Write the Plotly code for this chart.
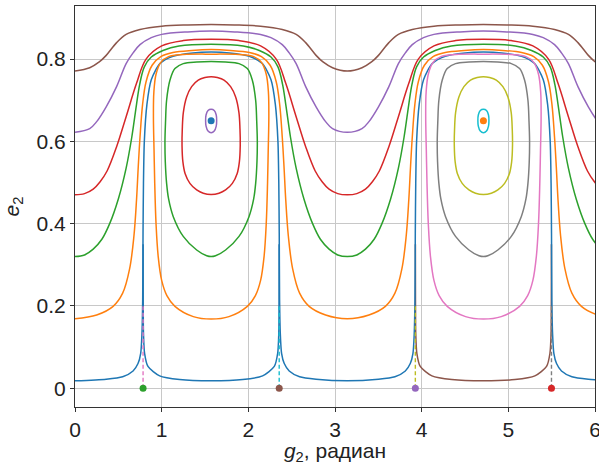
import numpy as np
import plotly.graph_objects as go

PI = np.pi

# ---------------- data ----------------
# axis ticks
x_ticks = [0, 1, 2, 3, 4, 5, 6]
y_ticks = [0, 0.2, 0.4, 0.6, 0.8]
y_tick_text = ["0", "0.2", "0.4", "0.6", "0.8"]

# circulating curves: half profile on g in [0, pi/2]  (curves are symmetric about pi/2 and pi)
blue_open_g = [0, 0.36, 0.55, 0.67, 0.727, 0.758, 0.773, 0.781, 0.785, 0.790, 0.80, 0.83, 0.88, 0.98, 1.13, 1.36, 1.5708]
blue_open_e = [0.018, 0.022, 0.028, 0.042, 0.060, 0.085, 0.134, 0.215, 0.377, 0.498, 0.600, 0.690, 0.750, 0.789, 0.807, 0.815, 0.817]

orange_open_g = [0, 0.25, 0.44, 0.55, 0.63, 0.68, 0.71, 0.73, 0.75, 0.78, 0.82, 0.89, 0.99, 1.13, 1.35, 1.5708]
orange_open_e = [0.169, 0.178, 0.199, 0.231, 0.290, 0.370, 0.458, 0.539, 0.610, 0.690, 0.745, 0.785, 0.806, 0.816, 0.821, 0.823]

green_open_g = [0, 0.11, 0.21, 0.31, 0.40, 0.50, 0.59, 0.655, 0.71, 0.746, 0.80, 0.88, 1.015, 1.2, 1.5708]
green_open_e = [0.320, 0.324, 0.338, 0.362, 0.400, 0.460, 0.535, 0.610, 0.690, 0.738, 0.781, 0.805, 0.821, 0.832, 0.836]

red_open_g = [0, 0.11, 0.21, 0.29, 0.37, 0.48, 0.59, 0.71, 0.82, 1.0, 1.25, 1.5708]
red_open_e = [0.470, 0.473, 0.484, 0.502, 0.528, 0.587, 0.660, 0.741, 0.800, 0.832, 0.845, 0.848]

purple_open_g = [0, 0.17, 0.25, 0.36, 0.48, 0.59, 0.67, 0.75, 0.88, 1.0, 1.3, 1.5708]
purple_open_e = [0.622, 0.631, 0.648, 0.684, 0.733, 0.789, 0.815, 0.835, 0.852, 0.860, 0.866, 0.868]

brown_open_g = [0, 0.17, 0.28, 0.36, 0.48, 0.59, 0.75, 1.0, 1.3, 1.5708]
brown_open_e = [0.771, 0.779, 0.793, 0.809, 0.840, 0.860, 0.872, 0.880, 0.883, 0.884]

# librating curves: quarter from the bottom at g = pi/2 round the left side to the top at g = pi/2
lib_orange_g = [1.5708, 1.365, 1.153, 1.060, 1.000, 0.960, 0.935, 0.920, 0.912, 0.905, 0.910, 0.935, 0.990, 1.080, 1.250, 1.5708]
lib_orange_e = [0.168, 0.174, 0.199, 0.225, 0.262, 0.320, 0.400, 0.498, 0.579, 0.660, 0.720, 0.763, 0.792, 0.806, 0.811, 0.812]

lib_green_g = [1.5708, 1.52, 1.404, 1.249, 1.134, 1.08, 1.057, 1.042, 1.038, 1.045, 1.057, 1.096, 1.153, 1.249, 1.404, 1.5708]
lib_green_e = [0.320, 0.322, 0.336, 0.369, 0.417, 0.460, 0.498, 0.550, 0.600, 0.650, 0.700, 0.749, 0.777, 0.789, 0.793, 0.794]

lib_red_g = [1.5708, 1.48, 1.404, 1.326, 1.27, 1.245, 1.235, 1.238, 1.25, 1.288, 1.346, 1.422, 1.499, 1.5708]
lib_red_e = [0.471, 0.474, 0.482, 0.498, 0.522, 0.550, 0.590, 0.630, 0.670, 0.708, 0.733, 0.749, 0.755, 0.757]

lib_small_g = [1.5708, 1.535, 1.512, 1.507, 1.512, 1.535, 1.5708]
lib_small_e = [0.621, 0.625, 0.637, 0.650, 0.664, 0.675, 0.678]

# bottom branch of the separatrix level inside a lobe (from lobe centre to the cusp)
inner_bottom_g = [1.5708, 1.207, 0.977, 0.842, 0.803, 0.790, 0.787, 0.786]
inner_bottom_e = [0.018, 0.021, 0.030, 0.053, 0.085, 0.134, 0.215, 0.35]

# equilibrium points
centre_g = [PI / 2, 3 * PI / 2]
centre_e = [0.65, 0.65]
cusp_g = [PI / 4, 7 * PI / 4, 5 * PI / 4, 3 * PI / 4]
cusp_e = [0, 0, 0, 0]
cusp_top_e = 0.2

# ---------------- styling ----------------
C = {"blue": "#1f77b4", "orange": "#ff7f0e", "green": "#2ca02c", "red": "#d62728",
     "purple": "#9467bd", "brown": "#8c564b", "pink": "#e377c2", "gray": "#7f7f7f",
     "olive": "#bcbd22", "cyan": "#17becf"}
LW = 1.5


def open_full(g, e):
    g = np.asarray(g, float); e = np.asarray(e, float)
    gq = np.concatenate([g, PI - g[::-1][1:]])
    eq = np.concatenate([e, e[::-1][1:]])
    gf = np.concatenate([gq, PI + gq[1:]])
    ef = np.concatenate([eq, eq[1:]])
    return gf, ef


def closed_full(g, e, shift=0.0):
    """Mirror the quarter into a loop; start the path on the left flank so the
    spline has no corner at the bottom."""
    g = np.asarray(g, float); e = np.asarray(e, float)
    gl = np.concatenate([g, (PI - g)[::-1][1:-1]])
    el = np.concatenate([e, e[::-1][1:-1]])
    k = int(np.argmin(gl))
    gl = np.roll(gl, -k); el = np.roll(el, -k)
    gl = np.append(gl, gl[0]); el = np.append(el, el[0])
    return gl + shift, el


def bottom_full(g, e, shift=0.0):
    g = np.asarray(g, float); e = np.asarray(e, float)
    gf = np.concatenate([g[::-1], (PI - g)[1:]])
    ef = np.concatenate([e[::-1], e[1:]])
    return gf + shift, ef


fig = go.Figure()


def add_line(x, y, color, smooth=1.0):
    fig.add_trace(go.Scatter(x=x, y=y, mode="lines",
                             line=dict(color=color, width=LW, shape="spline", smoothing=smooth),
                             hoverinfo="skip", showlegend=False))


# right-lobe bottom (brown) under the blue separatrix
bx, by = bottom_full(inner_bottom_g, inner_bottom_e, shift=PI)
add_line(bx, by, C["brown"], 0.7)
bx, by = bottom_full(inner_bottom_g, inner_bottom_e)
add_line(bx, by, C["blue"], 0.7)

open_sets = [(blue_open_g, blue_open_e, "blue", 0.7),
             (orange_open_g, orange_open_e, "orange", 1.0),
             (green_open_g, green_open_e, "green", 1.0),
             (red_open_g, red_open_e, "red", 1.0),
             (purple_open_g, purple_open_e, "purple", 1.0),
             (brown_open_g, brown_open_e, "brown", 1.0)]
for g, e, col, sm in open_sets:
    x, y = open_full(g, e)
    add_line(x, y, C[col], sm)

# left lobe librating curves
for (g, e, col) in [(lib_orange_g, lib_orange_e, "orange"), (lib_green_g, lib_green_e, "green"),
                    (lib_red_g, lib_red_e, "red"), (lib_small_g, lib_small_e, "purple")]:
    x, y = closed_full(g, e)
    add_line(x, y, C[col])

# right lobe librating curves
for (g, e, col) in [(lib_orange_g, lib_orange_e, "pink"), (lib_green_g, lib_green_e, "gray"),
                    (lib_red_g, lib_red_e, "olive"), (lib_small_g, lib_small_e, "cyan")]:
    x, y = closed_full(g, e, shift=PI)
    add_line(x, y, C[col])

# dashed verticals at the cusps
for gx, col in zip(cusp_g, ["pink", "gray", "olive", "cyan"]):
    fig.add_trace(go.Scatter(x=[gx, gx], y=[0, cusp_top_e], mode="lines",
                             line=dict(color=C[col], width=1.4, dash="4px,2.5px"),
                             hoverinfo="skip", showlegend=False))

# points
fig.add_trace(go.Scatter(x=centre_g, y=centre_e, mode="markers",
                         marker=dict(color=[C["blue"], C["orange"]], size=7),
                         hoverinfo="skip", showlegend=False))
fig.add_trace(go.Scatter(x=cusp_g, y=cusp_e, mode="markers",
                         marker=dict(color=[C["green"], C["red"], C["purple"], C["brown"]], size=7),
                         hoverinfo="skip", showlegend=False))

FONT = "Liberation Sans, Arial, Helvetica, sans-serif"
AX = "#333333"
GRID = "#c8c8c8"

fig.update_layout(
    width=599, height=465,
    margin=dict(l=75, r=4, t=6, b=58, autoexpand=False),
    paper_bgcolor="white", plot_bgcolor="white",
    font=dict(family=FONT, size=21, color="#222222"),
    xaxis=dict(range=[0, 6], tickvals=x_ticks, ticktext=[str(v) for v in x_ticks],
               showgrid=True, gridcolor=GRID, gridwidth=1, zeroline=False, automargin=False,
               showline=True, linecolor=AX, linewidth=1, mirror=True, ticklabeloverflow="allow",
               ticks="outside", ticklen=4, tickcolor=AX, tickfont=dict(size=21),
               title=dict(text="<i>g</i><sub>2</sub>, радиан", font=dict(size=21), standoff=4)),
    yaxis=dict(range=[-0.0456, 0.929], tickvals=y_ticks, ticktext=y_tick_text,
               showgrid=True, gridcolor=GRID, gridwidth=1, zeroline=False, automargin=False,
               showline=True, linecolor=AX, linewidth=1, mirror=True,
               ticks="outside", ticklen=4, tickcolor=AX, tickfont=dict(size=21),
               title=dict(text="<i>e</i><sub>2</sub>", font=dict(size=21), standoff=12)),
)

fig.write_html("out.html", config={"displayModeBar": False},
               post_script="document.body.style.margin='0px';")
